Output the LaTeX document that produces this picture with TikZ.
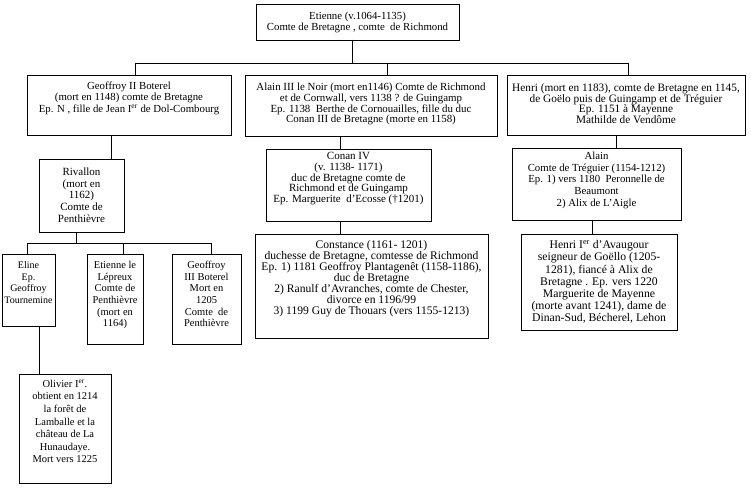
\documentclass[tikz,border=0pt]{standalone}
\usepackage{fontspec}
\setmainfont{Liberation Serif}
\newcommand{\firstl}{\rule{0pt}{0.78em}}
\begin{document}
\begin{tikzpicture}[x=1pt,y=-1pt,
  box/.style={draw, line width=0.9pt, inner sep=0pt, outer sep=0pt, anchor=north west},
  txt/.style 2 args={align=center, inner sep=0pt, outer sep=0pt, anchor=north, font=\fontsize{#1}{#2}\selectfont},
  conn/.style={line width=0.9pt}]
\useasboundingbox[fill=white] (0,0) rectangle (751,489);

% boxes
\node[box, minimum width=203pt, minimum height=36pt] (top) at (256,4) {};
\node[box, minimum width=204pt, minimum height=60pt] (geo) at (27,75) {};
\node[box, minimum width=252pt, minimum height=61pt] (ala3) at (245,75) {};
\node[box, minimum width=238pt, minimum height=60pt] (hen) at (507,75) {};
\node[box, minimum width=85pt, minimum height=73pt] (riv) at (39,159) {};
\node[box, minimum width=165pt, minimum height=72pt] (con4) at (266,149) {};
\node[box, minimum width=169pt, minimum height=72pt] (alain) at (512,148) {};
\node[box, minimum width=53pt, minimum height=72pt] (eline) at (2,254) {};
\node[box, minimum width=56pt, minimum height=90pt] (etl) at (87,254) {};
\node[box, minimum width=69pt, minimum height=90pt] (geo3) at (172,254) {};
\node[box, minimum width=233pt, minimum height=104pt] (const) at (255,234) {};
\node[box, minimum width=156pt, minimum height=96pt] (henI) at (521,234) {};
\node[box, minimum width=92pt, minimum height=109pt] (oliv) at (19,374) {};

% texts
\node[txt={10.8pt}{11pt}, yshift=-7.1pt] (top-t) at (top.north) {\firstl Etienne (v.1064-1135)\\Comte de Bretagne , comte \ de Richmond};
\node[txt={10.8pt}{11.3pt}, yshift=-6.1pt] (geo-t) at (geo.north) {\firstl Geoffroy II Boterel\\(mort en 1148) comte de Bretagne\\Ep. N , fille de Jean I\textsuperscript{er} de Dol-Combourg};
\node[txt={10.9pt}{10.8pt}, yshift=-7pt] (ala3-t) at (ala3.north) {\firstl Alain III le Noir (mort en1146) Comte de Richmond\\et de Cornwall, vers 1138 ? de Guingamp\\Ep. 1138 \ Berthe de Cornouailles, fille du duc\\Conan III de Bretagne (morte en 1158)};
\node[txt={11.3pt}{10.8pt}, yshift=-7.5pt] (hen-t) at (hen.north) {\firstl Henri (mort en 1183), comte de Bretagne en 1145,\\de Goëlo puis de Guingamp et de Tréguier\\Ep. 1151 à Mayenne\\Mathilde de Vendôme};
\node[txt={11pt}{11.7pt}, yshift=-7.95pt] (riv-t) at (riv.north) {\firstl Rivallon\\(mort en\\1162)\\Comte de\\Penthièvre};
\node[txt={11pt}{10.8pt}, yshift=-1.95pt] (con4-t) at (con4.north) {\firstl Conan IV\\(v. 1138- 1171)\\duc de Bretagne comte de\\Richmond et de Guingamp\\Ep. Marguerite \ d’Ecosse (†1201)};
\node[txt={10.8pt}{11.7pt}, yshift=-3.06pt] (alain-t) at (alain.north) {\firstl Alain\\Comte de Tréguier (1154-1212)\\Ep. 1) vers 1180 \ Peronnelle de\\Beaumont\\2) Alix de L’Aigle};
\node[txt={10pt}{11.7pt}, yshift=-6.5pt] (eline-t) at (eline.north) {\firstl Eline\\Ep.\\Geoffroy\\Tournemine};
\node[txt={10.5pt}{11.7pt}, yshift=-6.2pt] (etl-t) at (etl.north) {\firstl Etienne le\\Lépreux\\Comte de\\Penthièvre\\(mort en\\1164)};
\node[txt={10.5pt}{11.7pt}, yshift=-6.2pt] (geo3-t) at (geo3.north) {\firstl Geoffroy\\III Boterel\\Mort en\\1205\\Comte \ de\\Penthièvre};
\node[txt={11.6pt}{10.9pt}, yshift=-5.6pt] (const-t) at (const.north) {\firstl Constance (1161- 1201)\\duchesse de Bretagne, comtesse de Richmond\\Ep. 1) 1181 Geoffroy Plantagenêt (1158-1186),\\duc de Bretagne\\2) Ranulf d’Avranches, comte de Chester,\\divorce en 1196/99\\3) 1199 Guy de Thouars (vers 1155-1213)};
\node[txt={11.7pt}{12.2pt}, yshift=-5.6pt] (henI-t) at (henI.north) {\firstl Henri I\textsuperscript{er} d’Avaugour\\seigneur de Goëllo (1205-\\1281), fiancé à Alix de\\Bretagne . Ep. vers 1220\\Marguerite de Mayenne\\(morte avant 1241), dame de\\Dinan-Sud, Bécherel, Lehon};
\node[txt={10.5pt}{12.6pt}, yshift=-5.2pt] (oliv-t) at (oliv.north) {\firstl Olivier I\textsuperscript{er}.\\obtient en 1214\\la forêt de\\Lamballe et la\\château de La\\Hunaudaye.\\Mort vers 1225};

% connectors
\draw[conn] ([xshift=-5.5pt]top.south) -- ++(0,23) -| ([xshift=6pt]geo.north);
\draw[conn] ([xshift=-5.5pt]top.south) -- ++(0,23) -| ([xshift=16pt]ala3.north);
\draw[conn] ([xshift=-5.5pt]top.south) -- ++(0,23) -| ([xshift=2pt]hen.north);
\draw[conn] ([xshift=-18pt]geo.south) -- ([xshift=29.5pt]riv.north);
\draw[conn] ([xshift=-31pt]ala3.south) -- ([xshift=-8.5pt]con4.north);
\draw[conn] ([xshift=-8.5pt]con4.south) -- ([xshift=-31.5pt]const.north);
\draw[conn] ([xshift=-10pt]hen.south) -- ([xshift=19.5pt]alain.north);
\draw[conn] ([xshift=-4.5pt]alain.south) -- ([xshift=-7pt]henI.north);
\draw[conn] ([xshift=-5.5pt]riv.south) -- ++(0,11) -| ([xshift=-1.5pt]eline.north);
\draw[conn] ([xshift=-5.5pt]riv.south) -- ++(0,11) -| ([xshift=8pt]etl.north);
\draw[conn] ([xshift=-5.5pt]riv.south) -- ++(0,11) -| ([xshift=4.5pt]geo3.north);
\draw[conn] ([xshift=10.5pt]eline.south) -- ([xshift=-26pt]oliv.north);
\end{tikzpicture}
\end{document}
